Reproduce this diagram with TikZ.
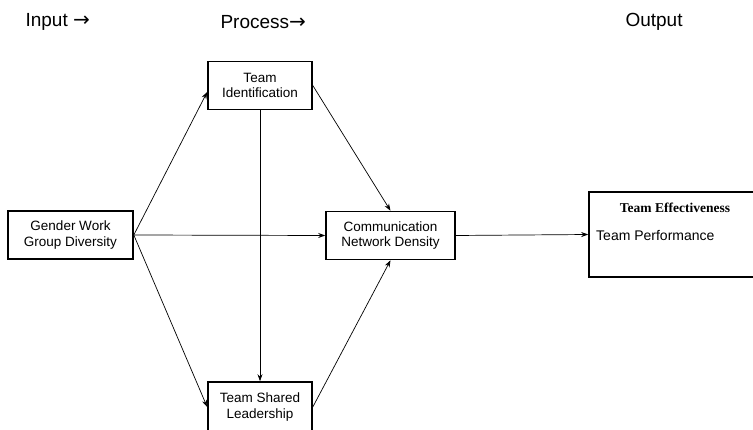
\documentclass[tikz,border=0pt]{standalone}
\usepackage{fontspec}
\setmainfont{Liberation Sans}
\newfontfamily\serifbold{Liberation Serif}
\newfontfamily\arrowfont{DejaVu Sans}
\newcommand{\headarrow}{{\arrowfont\fontsize{20}{22}\selectfont →}}
\usetikzlibrary{arrows.meta}
\begin{document}
\begin{tikzpicture}[x=1pt,y=-1pt,
  stagebox/.style={draw,line width=1.6pt,align=center,inner sep=0pt,
    minimum width=#1,minimum height=48pt,font=\fontsize{13.5}{15.5}\selectfont},
  link/.style={line width=0.7pt,-{Stealth[length=7pt,width=5pt]}},
  heading/.style={font=\fontsize{19}{22}\selectfont,anchor=west}]
\useasboundingbox (0,0) rectangle (753,430);
\fill[white] (0,0) rectangle (753,430);

% column headings
\node[heading] (hin) at (22,22) {Input \headarrow};
\node[heading] (hpr) at (217,22) {Process\headarrow};
\node[heading] (hout) at (622,22) {Output};

% boxes
\node[stagebox=125pt] (gw) at (70.5,235) {Gender Work\\Group Diversity};
\node[stagebox=104pt] (ti) at (260,85.5) {Team\\Identification};
\node[stagebox=129pt] (cn) at (390.5,235.5) {Communication\\Network Density};
\node[stagebox=104pt,minimum height=50pt] (tsl) at (260,407) {Team Shared\\Leadership};
\node[draw,line width=1.6pt,minimum width=168pt,minimum height=85pt,inner sep=0pt] (te) at (673,234.5) {};
\node[font=\serifbold\bfseries\fontsize{13.5}{15}\selectfont] (tet) at (675,208) {Team Effectiveness};
\node[font=\fontsize{14}{16}\selectfont,anchor=west,inner sep=0pt] (tp) at (596,236) {Team Performance};

% connectors
\draw[link] (gw.east) -- (ti.187);
\draw[link] (gw.east) -- (cn.west);
\draw[link] (gw.east) -- (tsl.west);
\draw[link] (ti.south) -- (tsl.north);
\draw[link] (ti.east) -- (cn.north);
\draw[link] (tsl.east) -- (cn.south);
\draw[link] (cn.east) -- (te.west);
\end{tikzpicture}
\end{document}
